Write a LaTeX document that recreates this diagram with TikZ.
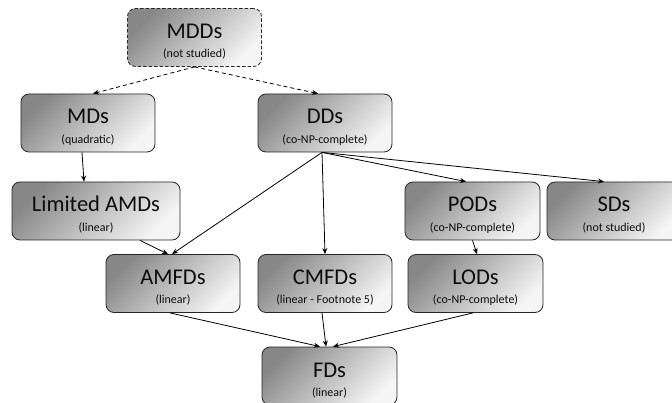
\documentclass[tikz,border=0pt]{standalone}
\usepackage{fontspec}
\setmainfont{Carlito}
\usetikzlibrary{arrows.meta}
\newcommand{\ttl}[1]{{\fontsize{22.5}{24}\selectfont #1}}
\newcommand{\sbt}[1]{{\fontsize{12}{13}\selectfont #1}}
\newcommand{\lbl}[2]{\parbox[c][58pt][t]{100pt}{\centering\lineskiplimit=-100pt\baselineskip=19.5pt
  \rule{0pt}{30pt}\makebox[0pt]{\ttl{#1}}\par\makebox[0pt]{\sbt{#2}}\par}}
\tikzset{
  box/.style={draw=black!85, line width=0.8pt, rounded corners=8pt,
    top color=black!47, bottom color=black!4, shading angle=45,
    minimum width=134pt, minimum height=58pt, inner sep=0pt,
    text=black!95},
  dbox/.style={box, dash pattern=on 3.5pt off 2pt},
  arr/.style={draw=black, line width=0.8pt, -{Stealth[length=6pt,width=5pt]}},
  darr/.style={arr, dash pattern=on 4pt off 3pt}
}
\begin{document}
\begin{tikzpicture}[x=1pt,y=-1pt]
\useasboundingbox (0,0) rectangle (672,403);
\node[dbox] (MDDs) at (194.5,37.5) {\lbl{MDDs}{(not studied)}};
\node[box] (MDs) at (88,123) {\lbl{MDs}{(quadratic)}};
\node[box] (DDs) at (325,123) {\lbl{DDs}{(co-NP-complete)}};
\node[box, minimum width=168pt] (LAMDs) at (96,211) {\lbl{Limited AMDs}{(linear)}};
\node[box, minimum width=135pt] (PODs) at (472.5,211) {\lbl{PODs}{(co-NP-complete)}};
\node[box] (SDs) at (614,211) {\lbl{SDs}{(not studied)}};
\node[box] (AMFDs) at (173,283.5) {\lbl{AMFDs}{(linear)}};
\node[box] (CMFDs) at (325,283.5) {\lbl{CMFDs}{(linear - Footnote 5)}};
\node[box, minimum width=135pt] (LODs) at (475.5,283.5) {\lbl{LODs}{(co-NP-complete)}};
\node[box, minimum width=135pt] (FDs) at (329.5,376) {\lbl{FDs}{(linear)}};

\coordinate (ddb) at ([xshift=-3pt]DDs.south);
\draw[darr] (MDDs.south) -- ([xshift=5pt]MDs.north);
\draw[darr] (MDDs.south) -- ([xshift=-7pt]DDs.north);
\draw[arr] ([xshift=-6pt]MDs.south) -- ([xshift=-12pt]LAMDs.north);
\draw[arr] ([xshift=44pt]LAMDs.south) -- ([xshift=-5pt]AMFDs.north);
\draw[arr] (ddb) -- ([xshift=-1pt]AMFDs.north);
\draw[arr] (ddb) -- (CMFDs.north);
\draw[arr] (ddb) -- ([xshift=-6.5pt]PODs.north);
\draw[arr] (ddb) -- ([xshift=-10pt]SDs.north);
\draw[arr] (PODs.south) -- ([xshift=1.5pt]LODs.north);
\draw[arr] ([xshift=-3pt]AMFDs.south) -- ([xshift=-9.5pt]FDs.north);
\draw[arr] ([xshift=-3pt]CMFDs.south) -- ([xshift=-3.5pt]FDs.north);
\draw[arr] ([xshift=-2.5pt]LODs.south) -- ([xshift=3.5pt]FDs.north);
\end{tikzpicture}
\end{document}
